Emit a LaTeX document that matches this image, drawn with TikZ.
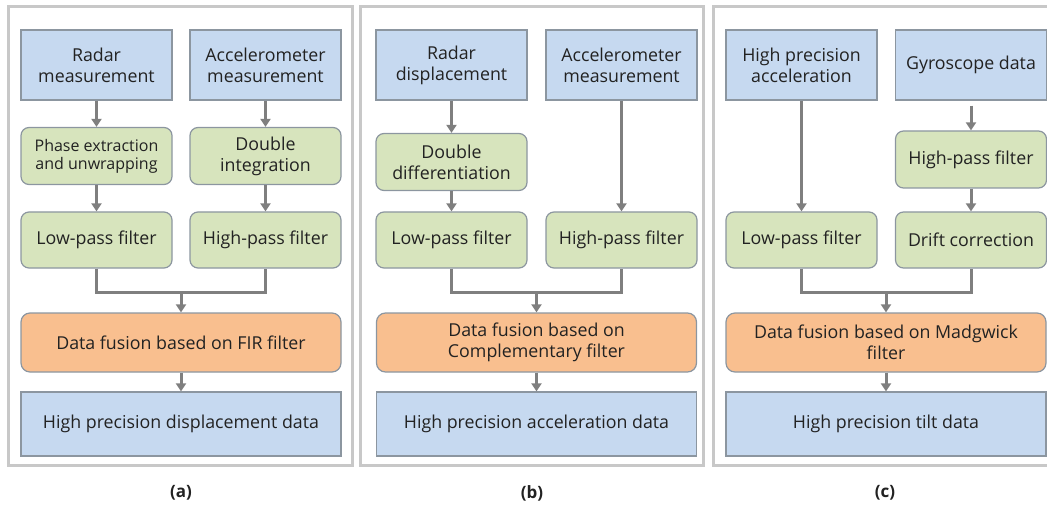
\documentclass[tikz,border=0pt]{standalone}
\usepackage{fontspec}
\setmainfont{Open Sans}
\usepackage{xcolor}
\usetikzlibrary{arrows.meta}

\definecolor{inblue}{HTML}{C6D9F0}
\definecolor{procgreen}{HTML}{D7E4BD}
\definecolor{fuseorange}{HTML}{F9BF8F}
\definecolor{edgegray}{HTML}{8C96A0}
\definecolor{flowgray}{HTML}{7F7F7F}
\definecolor{framegray}{HTML}{C8C8C8}
\definecolor{textdark}{HTML}{222222}

\begin{document}
\begin{tikzpicture}[x=1pt, y=-1pt,
  base/.style={draw=edgegray, line width=1.2pt, align=center, inner sep=0pt,
               text=textdark, font=\fontsize{17.8}{21}\selectfont},
  inbox/.style={base, fill=inblue, minimum width=151pt, minimum height=70pt},
  proc/.style={base, fill=procgreen, rounded corners=8pt, minimum width=151pt, minimum height=57pt},
  fuse/.style={base, fill=fuseorange, rounded corners=9pt, minimum width=320pt, minimum height=59pt},
  outbox/.style={base, fill=inblue, minimum width=320pt, minimum height=64pt},
  panel/.style={draw=framegray, line width=3pt},
  flow/.style={draw=flowgray, line width=3pt},
  arrow/.style={flow, -{Triangle[width=10pt,length=8pt]}},
  caption/.style={font=\fontsize{17}{20}\selectfont\bfseries, text=textdark},
]
\useasboundingbox (0,0) rectangle (1047,505);

% Cadres
\draw[panel] (8,7) rectangle (352,465);
\draw[panel] (360,7) rectangle (703,465);
\draw[panel] (713,7) rectangle (1060,465);

% (a)
\node[inbox] (rma) at (96.5,65)  {Radar\\measurement};
\node[inbox] (ama) at (265.5,65) {Accelerometer\\measurement};
\node[proc, font=\fontsize{16}{18}\selectfont] (pea) at (96.5,156) {Phase extraction\\and unwrapping};
\node[proc]  (dia) at (265.5,156) {Double\\integration};
\node[proc, minimum height=56pt] (lpa) at (96.5,240)  {Low-pass filter};
\node[proc, minimum height=56pt] (hpa) at (265.5,240) {High-pass filter};
\node[fuse]  (fua) at (181,342.5) {Data fusion based on FIR filter};
\node[outbox] (oua) at (181,424)  {High precision displacement data};
\coordinate (ma) at (181,292);

\draw[arrow] (rma) -- (pea);
\draw[arrow] (ama) -- (dia);
\draw[arrow] (pea) -- (lpa);
\draw[arrow] (dia) -- (hpa);
\draw[flow] (lpa) |- (ma) -| (hpa);
\draw[arrow] (ma) -- (fua);
\draw[arrow] (fua) -- (oua);
\node[caption] (capa) at (181,493) {(a)};

% (b)
\node[inbox] (rdb) at (451.5,65) {Radar\\displacement};
\node[inbox] (amb) at (621.5,65) {Accelerometer\\measurement};
\node[proc]  (ddb) at (451.5,162) {Double\\differentiation};
\node[proc, minimum height=56pt] (lpb) at (451.5,240) {Low-pass filter};
\node[proc, minimum height=56pt] (hpb) at (621.5,240) {High-pass filter};
\node[fuse]  (fub) at (536.5,342.5) {Data fusion based on\\Complementary filter};
\node[outbox] (oub) at (536.5,424) {High precision acceleration data};
\coordinate (mb) at (536.5,292);

\draw[arrow] (rdb) -- (ddb);
\draw[arrow] (ddb) -- (lpb);
\draw[arrow] (amb) -- (hpb);
\draw[flow] (lpb) |- (mb) -| (hpb);
\draw[arrow] (mb) -- (fub);
\draw[arrow] (fub) -- (oub);
\node[caption] (capb) at (532,493) {(b)};

% (c)
\node[inbox] (hac) at (801.5,65) {High precision\\acceleration};
\node[inbox] (gyc) at (971,65)   {Gyroscope data};
\node[proc]  (hpc) at (971,159.5) {High-pass filter};
\node[proc, minimum height=56pt] (lpc) at (801.5,240) {Low-pass filter};
\node[proc, minimum height=56pt] (drc) at (971,240)   {Drift correction};
\node[fuse]  (fuc) at (886,342.5) {Data fusion based on Madgwick\\filter};
\node[outbox] (ouc) at (886,424) {High precision tilt data};
\coordinate (mc) at (886,292);

\draw[arrow] (hac) -- (lpc);
\draw[arrow, shorten <=5pt] (gyc) -- (hpc);
\draw[arrow] (hpc) -- (drc);
\draw[flow] (lpc) |- (mc) -| (drc);
\draw[arrow] (mc) -- (fuc);
\draw[arrow] (fuc) -- (ouc);
\node[caption] (capc) at (885,493) {(c)};

\end{tikzpicture}
\end{document}
